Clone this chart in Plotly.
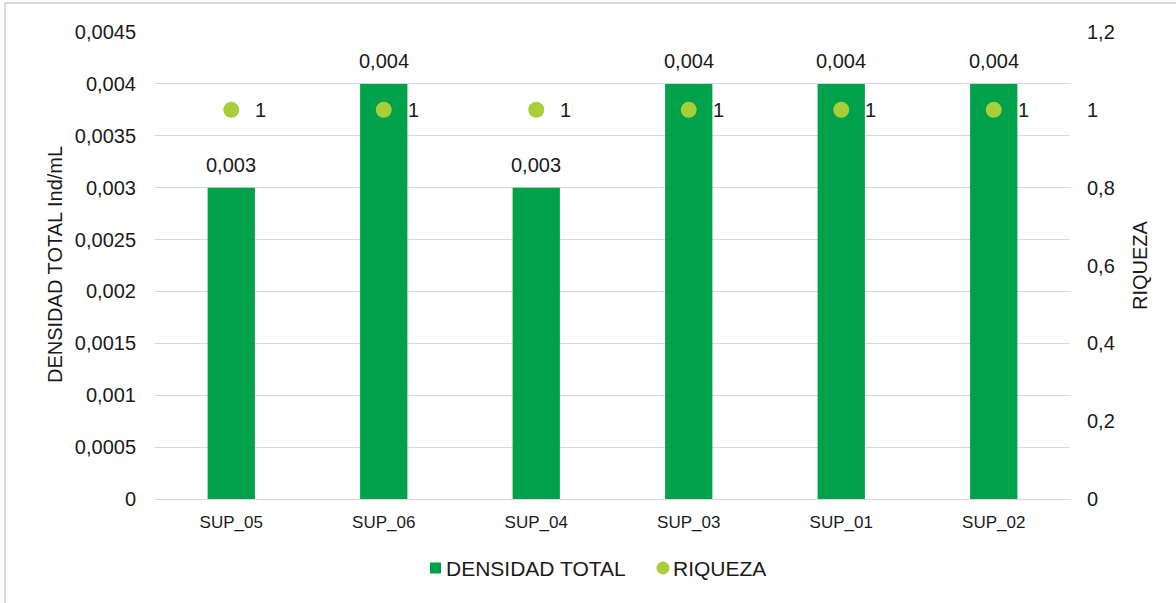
import plotly.graph_objects as go

categories = ["SUP_05", "SUP_06", "SUP_04", "SUP_03", "SUP_01", "SUP_02"]
densidad = [0.003, 0.004, 0.003, 0.004, 0.004, 0.004]
riqueza = [1, 1, 1, 1, 1, 1]
densidad_labels = ["0,003", "0,004", "0,003", "0,004", "0,004", "0,004"]
riqueza_labels = ["1", "1", "1", "1", "1", "1"]
left_ticks = [0, 0.0005, 0.001, 0.0015, 0.002, 0.0025, 0.003, 0.0035, 0.004, 0.0045]
left_ticktext = ["0", "0,0005", "0,001", "0,0015", "0,002", "0,0025", "0,003", "0,0035", "0,004", "0,0045"]
right_ticks = [0, 0.2, 0.4, 0.6, 0.8, 1.0, 1.2]
right_ticktext = ["0", "0,2", "0,4", "0,6", "0,8", "1", "1,2"]

BAR_COLOR = "#00A14B"
DOT_COLOR = "#A8CF38"
TXT = "#1a1a1a"
GRID = "#d9d9d9"

W, H = 1176, 603
L, R, T, B = 155, 106, 32, 104
pw, ph = W - L - R, H - T - B

def px(X):
    return (X - L) / pw

def py(Y):
    return (H - B - Y) / ph

font = "Liberation Sans, Arial, sans-serif"
FS = 20

fig = go.Figure()
fig.add_trace(go.Bar(
    x=categories, y=densidad, name="DENSIDAD TOTAL",
    marker=dict(color=BAR_COLOR, line=dict(width=0)),
    width=0.31, yaxis="y", showlegend=False,
))
fig.add_trace(go.Scatter(
    x=categories, y=riqueza, name="RIQUEZA", mode="markers",
    marker=dict(color=DOT_COLOR, size=16, symbol="circle"),
    yaxis="y2", cliponaxis=False, showlegend=False,
))

annotations = []
for c, v, t in zip(categories, densidad, densidad_labels):
    annotations.append(dict(x=c, y=v, xref="x", yref="y", text=t, showarrow=False,
                            yanchor="middle", yshift=23,
                            font=dict(size=FS, color=TXT, family=font)))
for c, v, t in zip(categories, riqueza, riqueza_labels):
    annotations.append(dict(x=c, y=v, xref="x", yref="y2", text=t, showarrow=False,
                            xanchor="left", yanchor="middle", xshift=22,
                            font=dict(size=FS, color=TXT, family=font)))
# axis titles
annotations.append(dict(x=px(55), y=py(265), xref="paper", yref="paper",
                        text="DENSIDAD TOTAL Ind/mL", textangle=-90, showarrow=False,
                        xanchor="center", yanchor="middle",
                        font=dict(size=FS, color=TXT, family=font)))
annotations.append(dict(x=px(1140), y=py(265), xref="paper", yref="paper",
                        text="RIQUEZA", textangle=-90, showarrow=False,
                        xanchor="center", yanchor="middle",
                        font=dict(size=FS, color=TXT, family=font)))
# legend texts
annotations.append(dict(x=px(444), y=py(568), xref="paper", yref="paper",
                        text="DENSIDAD TOTAL", showarrow=False,
                        xanchor="left", yanchor="middle",
                        font=dict(size=21, color=TXT, family=font)))
annotations.append(dict(x=px(671), y=py(568), xref="paper", yref="paper",
                        text="RIQUEZA", showarrow=False,
                        xanchor="left", yanchor="middle",
                        font=dict(size=21, color=TXT, family=font)))

shapes = [
    # chart area border
    dict(type="rect", xref="paper", yref="paper",
         x0=px(5), x1=px(1190), y0=py(620), y1=py(3),
         line=dict(color=GRID, width=2), layer="below"),
    # legend symbols
    dict(type="rect", xref="paper", yref="paper",
         x0=px(430), x1=px(441), y0=py(573.5), y1=py(562.5),
         fillcolor=BAR_COLOR, line=dict(width=0)),
    dict(type="circle", xref="paper", yref="paper",
         x0=px(656.5), x1=px(669.5), y0=py(574.5), y1=py(561.5),
         fillcolor=DOT_COLOR, line=dict(width=0)),
]

fig.update_layout(
    width=W, height=H,
    margin=dict(l=L, r=R, t=T, b=B, autoexpand=False),
    paper_bgcolor="white", plot_bgcolor="white",
    font=dict(family=font, color=TXT),
    separators=",.",
    showlegend=False,
    annotations=annotations,
    shapes=shapes,
    xaxis=dict(
        showgrid=False, showline=True, linecolor=GRID, linewidth=1,
        tickfont=dict(size=17, family=font, color=TXT), ticks="",
        ticklabelstandoff=8,
    ),
    yaxis=dict(
        range=[0, 0.0045], tickvals=left_ticks, ticktext=left_ticktext,
        showgrid=True, gridcolor=GRID, gridwidth=1,
        zeroline=False, showline=False, ticks="",
        tickfont=dict(size=FS, family=font, color=TXT), ticklabelstandoff=18,
    ),
    yaxis2=dict(
        range=[0, 1.2], tickvals=right_ticks, ticktext=right_ticktext,
        overlaying="y", side="right", showgrid=False, zeroline=False,
        showline=False, ticks="",
        tickfont=dict(size=FS, family=font, color=TXT), ticklabelstandoff=16,
    ),
)

fig.write_html("out.html", config={"displayModeBar": False},
               post_script="document.body.style.margin='0';document.body.style.overflow='hidden';")
